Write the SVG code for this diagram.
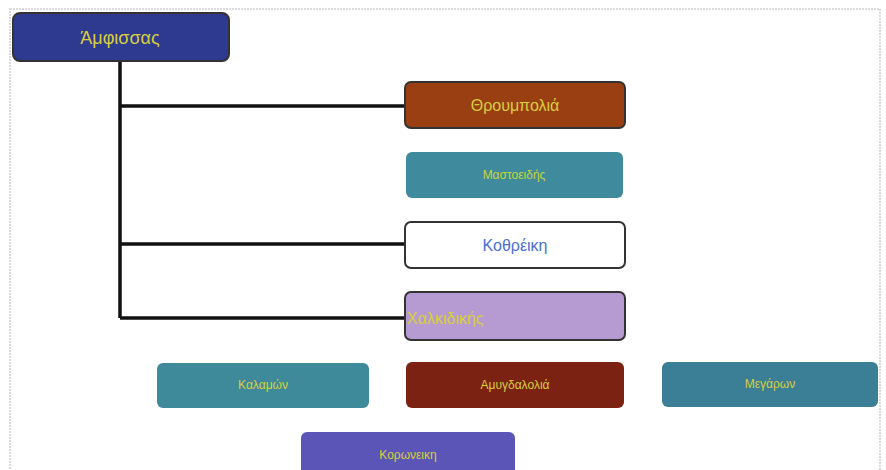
<svg xmlns="http://www.w3.org/2000/svg" width="886" height="470" viewBox="0 0 886 470">
<style>
.frame{fill:#fff;stroke:#d0d0d0;stroke-width:1.5;stroke-dasharray:2 1}
.box{stroke:#333;stroke-width:2}
.flat{stroke:none}
.conn{stroke:#111;stroke-width:3.5;fill:none}
text{font-family:"Liberation Sans",Arial,sans-serif;text-anchor:middle;dominant-baseline:central}
.y{fill:#d8cf3c}
.s{font-size:12px}
.m{font-size:16px}
.l{font-size:18px}
</style>
<rect x="0" y="0" width="886" height="470" fill="#fff"/>
<rect class="frame" x="10" y="9" width="870" height="470"/>
<g id="connectors">
<path class="conn" d="M120 61V318M120 106H405M120 244H405M120 318H405"/>
</g>
<g id="amfissas"><rect class="box" x="13" y="13" width="216" height="48" rx="7" fill="#2e3990"/><text class="y l" x="120" y="38">Άμφισσας</text></g>
<g id="throumpolia"><rect class="box" x="405" y="82" width="220" height="46" rx="6" fill="#9a3f12"/><text class="y m" x="515" y="105">Θρουμπολιά</text></g>
<g id="mastoeidis"><rect class="flat" x="406" y="152" width="217" height="46" rx="6" fill="#3f8a9c"/><text class="s" x="514" y="175" fill="#c8d83a">Μαστοειδής</text></g>
<g id="kothreiki"><rect class="box" x="405" y="222" width="220" height="46" rx="6" fill="#fff"/><text class="m" x="515" y="245" fill="#4a6fd0">Κοθρέικη</text></g>
<g id="chalkidikis"><rect class="box" x="405" y="292" width="220" height="48" rx="6" fill="#b69bd2"/><text class="y m" x="407" y="318" style="text-anchor:start">Χαλκιδικής</text></g>
<g id="kalamon"><rect class="flat" x="157" y="363" width="212" height="45" rx="6" fill="#3e8a9a"/><text class="y s" x="263" y="385">Καλαμών</text></g>
<g id="amygdalolia"><rect class="flat" x="406" y="362" width="218" height="46" rx="6" fill="#7b2212"/><text class="y s" x="515" y="385">Αμυγδαλολιά</text></g>
<g id="megaron"><rect class="flat" x="662" y="362" width="216" height="45" rx="6" fill="#3a7f96"/><text class="y s" x="770" y="384">Μεγάρων</text></g>
<g id="koroneiki"><rect class="flat" x="301" y="432" width="214" height="46" rx="6" fill="#5b55b8"/><text class="y s" x="408" y="455">Κορωνεικη</text></g>
</svg>
